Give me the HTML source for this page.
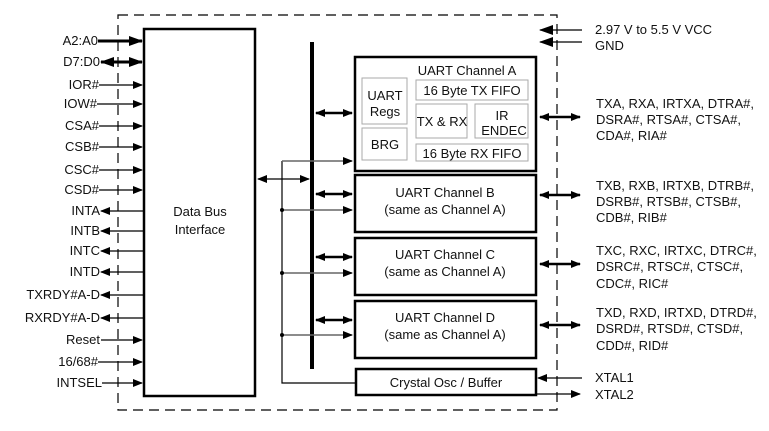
<!DOCTYPE html>
<html><head><meta charset="utf-8"><style>
body{margin:0;background:#fff}
svg{display:block}
text{font-family:"Liberation Sans",Arial,sans-serif;font-size:13px;fill:#111}
</style></head><body>
<svg width="769" height="431" viewBox="0 0 769 431" xmlns="http://www.w3.org/2000/svg">
<defs>
<marker id="a" markerWidth="10" markerHeight="8" refX="9" refY="4" orient="auto-start-reverse" markerUnits="userSpaceOnUse"><path d="M0,0 L10,4 L0,8 z" fill="#000"/></marker>
<marker id="b" markerWidth="14" markerHeight="10" refX="13" refY="5" orient="auto-start-reverse" markerUnits="userSpaceOnUse"><path d="M0,0 L14,5 L0,10 z" fill="#000"/></marker>
</defs>
<path d="M118,15 L557,15 L557,410 L118,410 Z" fill="none" stroke="#000" stroke-width="1.2" stroke-dasharray="10,6"/>
<rect x="144" y="29" width="111" height="367" fill="#fff" stroke="#000" stroke-width="2.5"/>
<text x="200" y="216" text-anchor="middle">Data Bus</text>
<text x="200" y="234" text-anchor="middle">Interface</text>
<g stroke="#000" stroke-width="1.3" fill="none">
<line x1="98" y1="41" x2="142" y2="41" stroke-width="3" marker-end="url(#b)"/>
<line x1="101" y1="62" x2="142" y2="62" stroke-width="3" marker-start="url(#b)" marker-end="url(#b)"/>
<line x1="99" y1="85" x2="142" y2="85" marker-end="url(#a)"/>
<line x1="97" y1="104" x2="142" y2="104" marker-end="url(#a)"/>
<line x1="99" y1="126" x2="142" y2="126" marker-end="url(#a)"/>
<line x1="99" y1="147" x2="142" y2="147" marker-end="url(#a)"/>
<line x1="99" y1="170" x2="142" y2="170" marker-end="url(#a)"/>
<line x1="99" y1="190" x2="142" y2="190" marker-end="url(#a)"/>
<line x1="143" y1="211" x2="101" y2="211" marker-end="url(#a)"/>
<line x1="143" y1="231" x2="101" y2="231" marker-end="url(#a)"/>
<line x1="143" y1="251" x2="101" y2="251" marker-end="url(#a)"/>
<line x1="143" y1="272" x2="101" y2="272" marker-end="url(#a)"/>
<line x1="143" y1="295" x2="101" y2="295" marker-end="url(#a)"/>
<line x1="143" y1="318" x2="101" y2="318" marker-end="url(#a)"/>
<line x1="101" y1="340" x2="142" y2="340" marker-end="url(#a)"/>
<line x1="98" y1="362" x2="142" y2="362" marker-end="url(#a)"/>
<line x1="102" y1="383" x2="142" y2="383" marker-end="url(#a)"/>
</g>
<g text-anchor="end">
<text x="98" y="45">A2:A0</text>
<text x="100" y="66">D7:D0</text>
<text x="99" y="89">IOR#</text>
<text x="97" y="108">IOW#</text>
<text x="99" y="130">CSA#</text>
<text x="99" y="151">CSB#</text>
<text x="99" y="174">CSC#</text>
<text x="99" y="194">CSD#</text>
<text x="100" y="215">INTA</text>
<text x="100" y="235">INTB</text>
<text x="100" y="255">INTC</text>
<text x="100" y="276">INTD</text>
<text x="100" y="299">TXRDY#A-D</text>
<text x="100" y="322">RXRDY#A-D</text>
<text x="100" y="344">Reset</text>
<text x="98" y="366">16/68#</text>
<text x="102" y="387">INTSEL</text>
</g>
<line x1="312" y1="42" x2="312" y2="369" stroke="#000" stroke-width="4"/>
<line x1="258" y1="179" x2="309" y2="179" stroke="#000" stroke-width="1.3" marker-start="url(#a)" marker-end="url(#a)"/>
<path d="M282,161 L282,383 L355,383" fill="none" stroke="#000" stroke-width="1.2"/>
<g stroke="#666" stroke-width="1.5">
<line x1="282" y1="161" x2="352" y2="161" marker-end="url(#a)"/>
<line x1="282" y1="210" x2="352" y2="210" marker-end="url(#a)"/>
<line x1="282" y1="273" x2="352" y2="273" marker-end="url(#a)"/>
<line x1="282" y1="335" x2="352" y2="335" marker-end="url(#a)"/>
</g>
<g fill="#000"><circle cx="282" cy="210" r="2"/><circle cx="282" cy="273" r="2"/><circle cx="282" cy="335" r="2"/></g>
<g stroke="#000" stroke-width="2.5">
<line x1="316" y1="113" x2="352" y2="113" marker-start="url(#a)" marker-end="url(#a)"/>
<line x1="316" y1="194" x2="352" y2="194" marker-start="url(#a)" marker-end="url(#a)"/>
<line x1="316" y1="257" x2="352" y2="257" marker-start="url(#a)" marker-end="url(#a)"/>
<line x1="316" y1="320" x2="352" y2="320" marker-start="url(#a)" marker-end="url(#a)"/>
</g>
<rect x="355" y="57" width="181" height="114" fill="#fff" stroke="#000" stroke-width="2.5"/>
<text x="467" y="75" text-anchor="middle">UART Channel A</text>
<g fill="none" stroke="#aaa" stroke-width="1">
<rect x="362" y="78" width="45" height="46"/>
<rect x="362" y="128" width="45" height="32"/>
<rect x="416" y="80" width="112" height="20"/>
<rect x="416" y="104" width="51" height="34"/>
<rect x="475" y="104" width="53" height="34"/>
<rect x="416" y="144" width="112" height="17"/>
</g>
<text x="385" y="100" text-anchor="middle">UART</text>
<text x="385" y="116" text-anchor="middle">Regs</text>
<text x="385" y="149" text-anchor="middle">BRG</text>
<text x="472" y="95" text-anchor="middle">16  Byte TX FIFO</text>
<text x="442" y="126" text-anchor="middle">TX &amp; RX</text>
<text x="502" y="120" text-anchor="middle">IR</text>
<text x="504" y="135" text-anchor="middle">ENDEC</text>
<text x="472" y="158" text-anchor="middle">16  Byte RX FIFO</text>
<g fill="#fff" stroke="#000" stroke-width="2.5">
<rect x="355" y="175" width="181" height="57"/>
<rect x="355" y="238" width="181" height="57"/>
<rect x="355" y="301" width="181" height="57"/>
<rect x="356" y="369" width="180" height="26"/>
</g>
<g text-anchor="middle">
<text x="445" y="197">UART Channel B</text>
<text x="445" y="214">(same as Channel A)</text>
<text x="445" y="259">UART Channel C</text>
<text x="445" y="276">(same as Channel A)</text>
<text x="445" y="322">UART Channel D</text>
<text x="445" y="339">(same as Channel A)</text>
<text x="446" y="387">Crystal Osc / Buffer</text>
</g>
<g stroke="#000" stroke-width="2.5">
<line x1="540" y1="117" x2="580" y2="117" marker-start="url(#a)" marker-end="url(#a)"/>
<line x1="540" y1="195" x2="580" y2="195" marker-start="url(#a)" marker-end="url(#a)"/>
<line x1="540" y1="264" x2="580" y2="264" marker-start="url(#a)" marker-end="url(#a)"/>
<line x1="540" y1="325" x2="580" y2="325" marker-start="url(#a)" marker-end="url(#a)"/>
</g>
<g stroke="#000" stroke-width="1.3">
<line x1="582" y1="30" x2="540" y2="30" marker-end="url(#b)"/>
<line x1="582" y1="42" x2="540" y2="42" marker-end="url(#b)"/>
<line x1="582" y1="378" x2="538" y2="378" marker-end="url(#a)"/>
<line x1="537" y1="394" x2="580" y2="394" marker-end="url(#a)"/>
</g>
<text x="595" y="34">2.97 V to  5.5 V VCC</text>
<text x="595" y="50">GND</text>
<text x="596" y="108">TXA, RXA, IRTXA, DTRA#,</text>
<text x="596" y="124">DSRA#, RTSA#, CTSA#,</text>
<text x="596" y="140">CDA#, RIA#</text>
<text x="596" y="190">TXB, RXB, IRTXB, DTRB#,</text>
<text x="596" y="206">DSRB#, RTSB#, CTSB#,</text>
<text x="596" y="222">CDB#, RIB#</text>
<text x="596" y="255">TXC, RXC, IRTXC, DTRC#,</text>
<text x="596" y="271">DSRC#, RTSC#, CTSC#,</text>
<text x="596" y="288">CDC#, RIC#</text>
<text x="596" y="317">TXD, RXD, IRTXD, DTRD#,</text>
<text x="596" y="333">DSRD#, RTSD#, CTSD#,</text>
<text x="596" y="350">CDD#, RID#</text>
<text x="595" y="382">XTAL1</text>
<text x="595" y="399">XTAL2</text>
</svg>
</body></html>
